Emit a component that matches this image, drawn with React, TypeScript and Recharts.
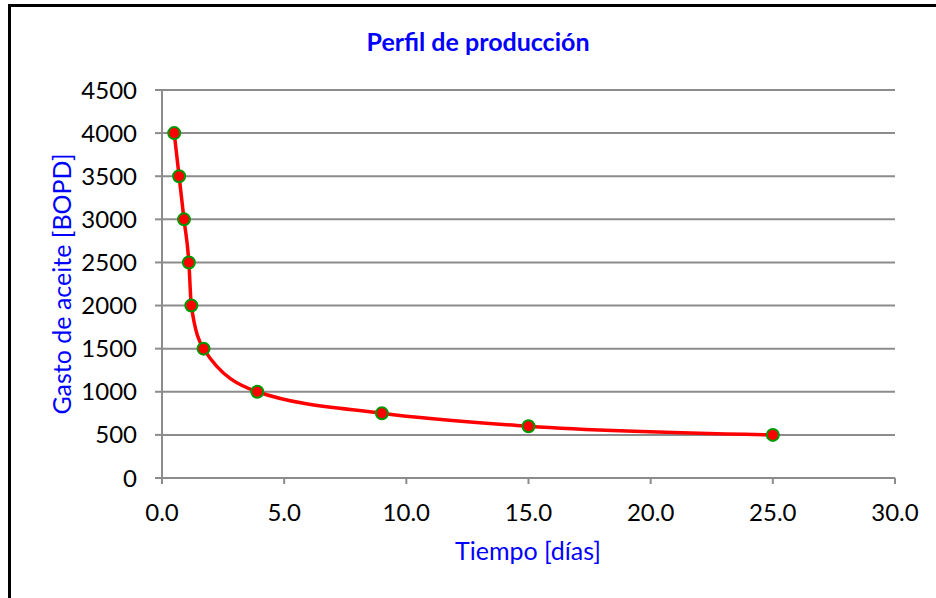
import { LineChart, Line, XAxis, YAxis, CartesianGrid } from "recharts";

const tiempo = [0.5, 0.7, 0.9, 1.1, 1.2, 1.7, 3.9, 9.0, 15.0, 25.0];
const gasto = [4000, 3500, 3000, 2500, 2000, 1500, 1000, 750, 600, 500];
const xTicks = [0, 5, 10, 15, 20, 25, 30];
const yTicks = [0, 500, 1000, 1500, 2000, 2500, 3000, 3500, 4000, 4500];

const data = tiempo.map((t, i) => ({ t, q: gasto[i] }));

const font = "Lato, 'Open Sans', sans-serif";
const tickStyle = { fill: "#000", fontSize: 24, fontFamily: font };

export default function App() {
  return (
    <div style={{ position: "absolute", left: 0, top: 0, width: 936, height: 598, overflow: "hidden", background: "#fff" }}>
      <div
        style={{
          position: "absolute",
          left: 8,
          top: 4,
          width: 1000,
          height: 700,
          borderLeft: "3px solid #000",
          borderTop: "3px solid #000",
        }}
      />
      <LineChart width={936} height={598} data={data} margin={{ top: 90, right: 41, left: 62, bottom: 90 }}>
        <CartesianGrid vertical={false} stroke="#8c8c8c" strokeWidth={2} />
        <XAxis
          dataKey="t"
          type="number"
          domain={[0, 30]}
          ticks={xTicks}
          tickFormatter={(v: number) => v.toFixed(1)}
          tick={tickStyle}
          stroke="#8c8c8c"
          strokeWidth={2}
          tickSize={6}
          tickMargin={20}
          height={30}
        />
        <YAxis
          dataKey="q"
          type="number"
          domain={[0, 4500]}
          ticks={yTicks}
          tick={tickStyle}
          stroke="#8c8c8c"
          strokeWidth={2}
          tickSize={7}
          tickMargin={18}
          width={100}
        />
        <Line
          dataKey="q"
          type="monotone"
          stroke="#ff0000"
          strokeWidth={3.5}
          dot={{ r: 6, fill: "#ff0000", stroke: "#009900", strokeWidth: 2 }}
          isAnimationActive={false}
        />
      </LineChart>
      <div
        style={{
          position: "absolute",
          left: 0,
          width: 956,
          top: 26,
          textAlign: "center",
          color: "#0000ff",
          fontFamily: font,
          fontWeight: "bold",
          fontSize: 25,
        }}
      >
        Perfil de producción
      </div>
      <div
        style={{
          position: "absolute",
          left: 328,
          width: 400,
          top: 535,
          textAlign: "center",
          color: "#0000ff",
          fontFamily: font,
          fontSize: 25,
        }}
      >
        Tiempo [días]
      </div>
      <div
        style={{
          position: "absolute",
          left: 62 - 200,
          top: 284 - 16,
          width: 400,
          textAlign: "center",
          color: "#0000ff",
          fontFamily: font,
          fontSize: 25,
          transform: "rotate(-90deg)",
          transformOrigin: "200px 16px",
        }}
      >
        Gasto de aceite [BOPD]
      </div>
    </div>
  );
}
